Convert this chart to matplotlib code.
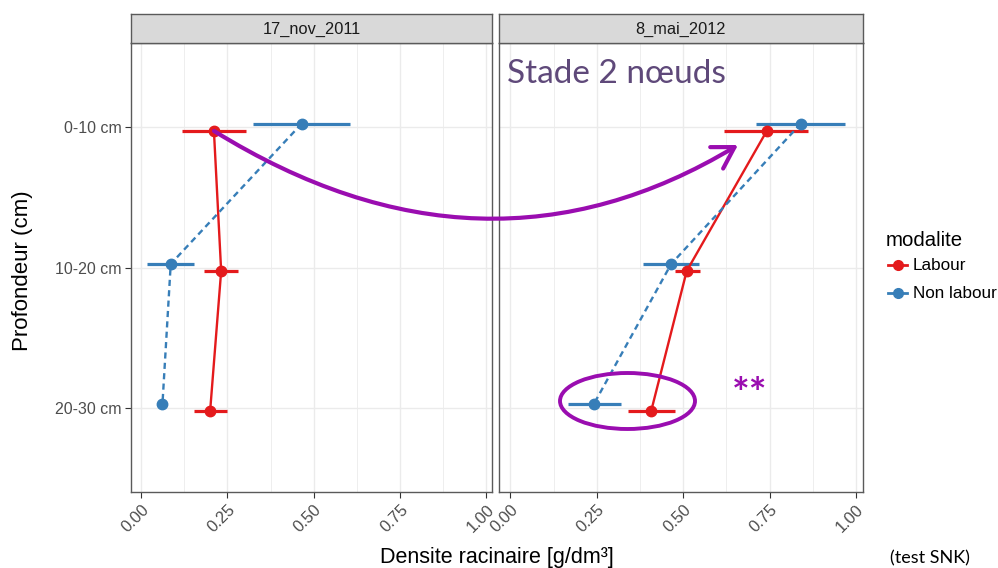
import matplotlib
matplotlib.use("Agg")
import matplotlib.pyplot as plt
from matplotlib.patches import Ellipse, FancyArrowPatch
from matplotlib.path import Path
from matplotlib.lines import Line2D

plt.rcParams['font.family'] = ['Liberation Sans', 'DejaVu Sans']

# ---- data -------------------------------------------------------------
depths = ["0-10 cm", "10-20 cm", "20-30 cm"]
dates = ["17_nov_2011", "8_mai_2012"]
modalites = ["Labour", "Non labour"]

# 17 Nov 2011
labour_nov = [0.211, 0.232, 0.200]
labour_nov_lo = [0.118, 0.182, 0.153]
labour_nov_hi = [0.304, 0.280, 0.249]
nonlabour_nov = [0.465, 0.086, 0.062]
nonlabour_nov_lo = [0.325, 0.018, 0.058]
nonlabour_nov_hi = [0.605, 0.154, 0.066]

# 8 May 2012
labour_mai = [0.742, 0.510, 0.407]
labour_mai_lo = [0.619, 0.476, 0.340]
labour_mai_hi = [0.862, 0.549, 0.476]
nonlabour_mai = [0.840, 0.465, 0.241]
nonlabour_mai_lo = [0.711, 0.383, 0.166]
nonlabour_mai_hi = [0.968, 0.546, 0.320]

x_ticks = [0.00, 0.25, 0.50, 0.75, 1.00]
x_ticklabels = ["0.00", "0.25", "0.50", "0.75", "1.00"]

series = {
    dates[0]: {
        "Labour": (labour_nov, labour_nov_lo, labour_nov_hi),
        "Non labour": (nonlabour_nov, nonlabour_nov_lo, nonlabour_nov_hi),
    },
    dates[1]: {
        "Labour": (labour_mai, labour_mai_lo, labour_mai_hi),
        "Non labour": (nonlabour_mai, nonlabour_mai_lo, nonlabour_mai_hi),
    },
}

# ---- style --------------------------------------------------------------
colors = {"Labour": "#E41A1C", "Non labour": "#377EB8"}
linestyles = {"Labour": "-", "Non labour": (0, (2.6, 1.8))}
dodge = {"Labour": 0.025, "Non labour": -0.025}
annot = "#9A0DB0"
border = "#5A5A5A"
grid = "#EBEBEB"
tick_col = "#4D4D4D"

W, H = 998, 568
fig = plt.figure(figsize=(W / 100, H / 100), dpi=100)


def box(x0, y0, x1, y1):
    return [x0 / W, 1 - y1 / H, (x1 - x0) / W, (y1 - y0) / H]


def fx(x):
    return x / W


def fy(y):
    return 1 - y / H


panels = [
    (dates[0], (131, 492), (-0.029, 1.016)),
    (dates[1], (499, 863), (-0.033, 1.020)),
]

for i, (date, (px0, px1), xlim) in enumerate(panels):
    ax = fig.add_axes(box(px0, 43, px1, 492))
    ax.set_xlim(*xlim)
    ax.set_ylim(3.6, 0.4)
    ypos = list(range(1, len(depths) + 1))

    # grid
    for xv in x_ticks:
        ax.axvline(xv, color=grid, lw=1.0, zorder=0)
    for xv in [0.125, 0.375, 0.625, 0.875]:
        ax.axvline(xv, color=grid, lw=0.6, zorder=0)
    for yv in ypos:
        ax.axhline(yv, color=grid, lw=1.0, zorder=0)

    for mod in modalites:
        mean, lo, hi = series[date][mod]
        yy = [y + dodge[mod] for y in ypos]
        ax.hlines(yy, lo, hi, color=colors[mod], lw=2.3, zorder=3)
        ax.plot(mean, yy, color=colors[mod], lw=1.7, ls=linestyles[mod],
                marker="o", ms=7.5, zorder=4)

    ax.set_xticks(x_ticks)
    ax.set_xticklabels(x_ticklabels, rotation=45, ha="right", va="top",
                       rotation_mode="anchor", fontsize=11.8, color=tick_col)
    ax.set_yticks(ypos)
    ax.tick_params(axis="both", color="#333333", width=0.8, length=4, pad=3)
    if i == 0:
        ax.set_yticklabels(depths, fontsize=11.5, color=tick_col)
    else:
        ax.set_yticklabels([])
        ax.tick_params(axis="y", length=0)
    for sp in ax.spines.values():
        sp.set_color(border)
        sp.set_linewidth(1.0)

    # facet strip
    sax = fig.add_axes(box(px0, 14, px1, 43))
    sax.set_xticks([])
    sax.set_yticks([])
    sax.set_facecolor("#D9D9D9")
    for sp in sax.spines.values():
        sp.set_color(border)
        sp.set_linewidth(1.0)
    sax.text(0.5, 0.48, date, transform=sax.transAxes, ha="center",
             va="center", fontsize=11.8, color="#1A1A1A")

# axis titles
fig.text(fx(497), fy(563), "Densite racinaire [g/dm³]", ha="center",
         va="baseline", fontsize=15.5, color="black")
fig.text(fx(23), fy(271), "Profondeur (cm)", ha="center", va="center",
         rotation=90, fontsize=16, color="black")

# legend
fig.text(fx(886), fy(240), "modalite", ha="left", va="center",
         fontsize=14.7, color="black")
for mod, ly in zip(modalites, [265, 293]):
    fig.add_artist(Line2D([fx(888), fx(907)], [fy(ly), fy(ly)],
                          color=colors[mod], lw=2.0))
    fig.add_artist(Line2D([fx(897.5)], [fy(ly)], color=colors[mod],
                          marker="o", ms=7))
    fig.text(fx(913), fy(ly), mod, ha="left", va="center", fontsize=12.3,
             color="black")

# annotations
fig.text(fx(507), fy(74), "Stade 2 nœuds", ha="left", va="center",
         fontsize=24, color="#5F497A", family=["Lato", "DejaVu Sans"])
fig.text(fx(890), fy(563), "(test SNK)", ha="left", va="baseline",
         fontsize=13, color="black", family=["Lato", "DejaVu Sans"])
fig.text(fx(750), fy(396), "**", ha="center", va="center", fontsize=30,
         color=annot, fontweight="bold", family=["Lato", "DejaVu Sans"])

curve = Path([(fx(214), fy(131)), (fx(484), fy(298)), (fx(738), fy(145))],
             [Path.MOVETO, Path.CURVE3, Path.CURVE3])
arrow = FancyArrowPatch(path=curve, transform=fig.transFigure,
                        arrowstyle="->,head_length=0.75,head_width=0.45",
                        mutation_scale=20, color=annot, lw=3.0, zorder=10)
fig.add_artist(arrow)

ell = Ellipse((fx(627.5), fy(401)), width=fx(135), height=56 / H,
              transform=fig.transFigure, fill=False, edgecolor=annot,
              lw=2.8, zorder=10)
fig.add_artist(ell)

fig.savefig("out.png", dpi=100)
